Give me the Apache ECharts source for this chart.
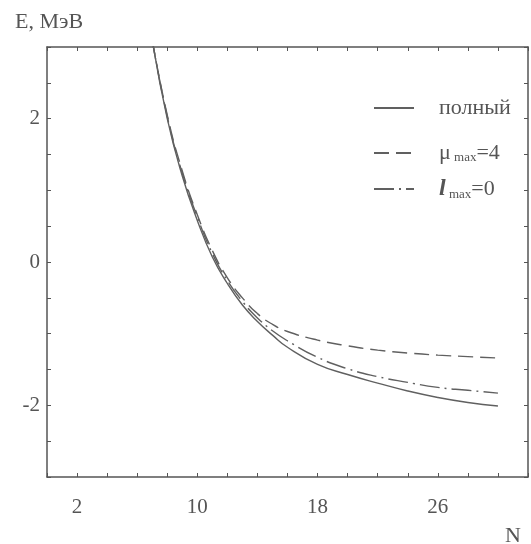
<!DOCTYPE html>
<html>
<head>
<meta charset="utf-8">
<script src="https://cdn.jsdelivr.net/npm/echarts@6/dist/echarts.min.js"></script>
<style>html,body{margin:0;padding:0;background:#fff}#c{width:531px;height:544px}</style>
</head>
<body>
<div id="c"></div>
<script>
var N = [7, 8, 9, 10, 11, 12, 13, 14, 15, 16, 18, 20, 22, 24, 26, 28, 30];
var Efull = [3.1, 2.0, 1.2, 0.58, 0.07, -0.3, -0.6, -0.83, -1.02, -1.19, -1.43, -1.57, -1.69, -1.8, -1.89, -1.96, -2.01];
var Emu4  = [3.1, 2.05, 1.27, 0.66, 0.16, -0.22, -0.5, -0.72, -0.87, -0.97, -1.09, -1.17, -1.23, -1.27, -1.3, -1.32, -1.34];
var El0   = [3.1, 2.03, 1.24, 0.63, 0.12, -0.26, -0.55, -0.78, -0.96, -1.1, -1.33, -1.49, -1.6, -1.68, -1.75, -1.79, -1.83];
var xTickLabels = [2, 10, 18, 26];
var yTickLabels = [-2, 0, 2];
var names = ['полный', 'μmax=4', 'lmax=0'];

function pairs(ys) { return N.map(function (n, i) { return [n, ys[i]]; }); }

var FONT = '"Liberation Serif", "Times New Roman", serif';
var INK = '#555';
var LINE = '#606060';

var chart = echarts.init(document.getElementById('c'));
function axisCommon() {
  return {
    axisLine: { show: true, onZero: false, lineStyle: { color: INK, width: 1.5 } },
    axisTick: { show: true, inside: true, length: 4, lineStyle: { color: INK, width: 1 } },
    splitLine: { show: false }
  };
}
function legendFor(name, top) {
  return {
    data: [name], left: 368, top: top, itemWidth: 40, itemHeight: 14,
    selectedMode: false,
    itemStyle: { opacity: 0 },
    formatter: function (n) {
      if (n === 'μmax=4') return '{b|μ}{s| max}{b|=4}';
      if (n === 'lmax=0') return '{l|l}{s| max}{b|=0}';
      return '{b|' + n + '}';
    },
    textStyle: {
      color: INK, fontFamily: FONT, padding: [0, 0, 0, 20],
      rich: {
        b: { fontFamily: FONT, fontSize: 22, color: INK },
        s: { fontFamily: FONT, fontSize: 13, color: INK, verticalAlign: 'bottom', padding: [8, 0, 0, 0] },
        l: { fontFamily: FONT, fontSize: 24, color: INK, fontStyle: 'italic', fontWeight: 'bold' }
      }
    }
  };
}
chart.setOption({
  animation: false,
  backgroundColor: '#fff',
  title: [
    { text: 'E, МэВ', left: 10, top: 6, textStyle: { fontFamily: FONT, fontSize: 22, fontWeight: 'normal', color: INK } },
    { text: 'N', left: 500, top: 520, textStyle: { fontFamily: FONT, fontSize: 22, fontWeight: 'normal', color: INK } }
  ],
  grid: { left: 47, right: 2, top: 47, bottom: 67, containLabel: false },
  legend: [legendFor(names[0], 92), legendFor(names[1], 137), legendFor(names[2], 172)],
  xAxis: [
    Object.assign({
      type: 'value', min: 0, max: 32, interval: 2, position: 'bottom',
      axisLabel: {
        show: true, margin: 20, color: INK, fontFamily: FONT, fontSize: 21,
        formatter: function (v) { return xTickLabels.indexOf(v) >= 0 ? String(v) : ''; }
      }
    }, axisCommon()),
    Object.assign({
      type: 'value', min: 0, max: 32, interval: 2, position: 'top',
      axisLabel: { show: false }
    }, axisCommon())
  ],
  yAxis: [
    Object.assign({
      type: 'value', min: -3, max: 3, interval: 0.5, position: 'left',
      axisLabel: {
        show: true, margin: 7, color: INK, fontFamily: FONT, fontSize: 21,
        formatter: function (v) { return yTickLabels.indexOf(v) >= 0 ? String(v) : ''; }
      }
    }, axisCommon()),
    Object.assign({
      type: 'value', min: -3, max: 3, interval: 0.5, position: 'right',
      axisLabel: { show: false }
    }, axisCommon())
  ],
  series: [
    { name: names[0], type: 'line', data: pairs(Efull), smooth: 0.5, symbol: 'none', clip: true,
      lineStyle: { color: LINE, width: 1.4, type: 'solid' }, itemStyle: { color: LINE } },
    { name: names[1], type: 'line', data: pairs(Emu4), smooth: 0.5, symbol: 'none', clip: true,
      lineStyle: { color: LINE, width: 1.4, type: [15, 7] }, itemStyle: { color: LINE } },
    { name: names[2], type: 'line', data: pairs(El0), smooth: 0.5, symbol: 'none', clip: true,
      lineStyle: { color: LINE, width: 1.4, type: [20, 5, 2, 5] }, itemStyle: { color: LINE } }
  ]
});
</script>
</body>
</html>
